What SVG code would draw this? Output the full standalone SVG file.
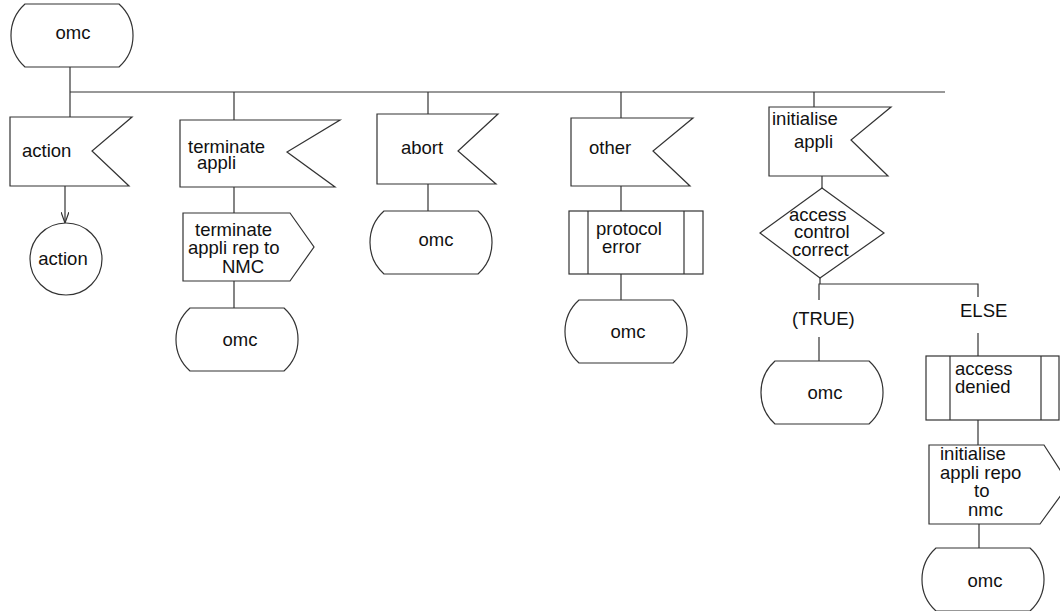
<svg xmlns="http://www.w3.org/2000/svg" xmlns:xlink="http://www.w3.org/1999/xlink" width="1060" height="611" viewBox="0 0 1060 611">
  <style>
    .shape { fill: #ffffff; stroke: #333333; stroke-width: 1.2; }
    .line { fill: none; stroke: #333333; stroke-width: 1.2; }
    text { font-family: "Liberation Sans", Arial, Helvetica, sans-serif; font-size: 18.5px; fill: #111111; }
    .c { text-anchor: middle; }
  </style>
  <defs>
    <!-- SDL state symbol: flat top and bottom, arced sides -->
    <path id="state" d="M14,0 H108 A42.4,42.4 0 0 1 108,63 H14 A42.4,42.4 0 0 1 14,0 Z"/>
    <marker id="open" viewBox="0 0 11 8" refX="11" refY="4" markerWidth="11" markerHeight="8" markerUnits="userSpaceOnUse" orient="auto">
      <path d="M0,0 L11,4 L0,8" fill="none" stroke="#333333" stroke-width="1.2"/>
    </marker>
  </defs>

  <g id="connectors">
    <line class="line" x1="70" y1="67" x2="70" y2="117"/>
    <line class="line" x1="70" y1="92" x2="945" y2="92"/>
    <line class="line" x1="234" y1="92" x2="234" y2="120"/>
    <line class="line" x1="428" y1="92" x2="428" y2="114"/>
    <line class="line" x1="621" y1="92" x2="621" y2="118"/>
    <line class="line" x1="814" y1="92" x2="814" y2="107"/>
    <line class="line" x1="65" y1="186" x2="65" y2="223" marker-end="url(#open)"/>
    <line class="line" x1="234" y1="187" x2="234" y2="213"/>
    <line class="line" x1="234" y1="281" x2="234" y2="308"/>
    <line class="line" x1="428" y1="184" x2="428" y2="211"/>
    <line class="line" x1="621" y1="186" x2="621" y2="211"/>
    <line class="line" x1="621" y1="274" x2="621" y2="300"/>
    <line class="line" x1="822" y1="176" x2="822" y2="188"/>
    <polyline class="line" points="820,278 820,284"/>
    <polyline class="line" points="819,300 819,284 978,284 978,297"/>
    <line class="line" x1="819" y1="337" x2="819" y2="361"/>
    <line class="line" x1="978" y1="333" x2="978" y2="356"/>
    <line class="line" x1="978" y1="420" x2="978" y2="445"/>
    <line class="line" x1="979" y1="524" x2="979" y2="548"/>
    <text x="792" y="325">(TRUE)</text>
    <text x="960" y="317">ELSE</text>
  </g>

  <g id="start-omc">
    <use xlink:href="#state" class="shape" x="11" y="4"/>
    <text class="c" x="73" y="39">omc</text>
  </g>

  <g id="in-action">
    <polygon class="shape" points="10,117 132,117 92,151 129,186 10,186"/>
    <text x="22" y="157">action</text>
  </g>
  <g id="conn-action">
    <circle class="shape" cx="66" cy="259" r="36"/>
    <text class="c" x="63" y="265">action</text>
  </g>

  <g id="in-terminate">
    <polygon class="shape" points="180,120 340,120 287,152 335,187 180,187"/>
    <text x="188" y="153">terminate</text>
    <text x="197" y="169">appli</text>
  </g>
  <g id="out-terminate-rep">
    <polygon class="shape" points="183,213 290,213 314,247 290,281 183,281"/>
    <text x="195" y="236">terminate</text>
    <text x="188" y="254">appli rep to</text>
    <text x="222" y="273">NMC</text>
  </g>
  <g id="state-terminate">
    <use xlink:href="#state" class="shape" x="176" y="308"/>
    <text class="c" x="240" y="346">omc</text>
  </g>

  <g id="in-abort">
    <polygon class="shape" points="377,114 498,114 458,151 496,184 377,184"/>
    <text x="401" y="154">abort</text>
  </g>
  <g id="state-abort">
    <use xlink:href="#state" class="shape" x="370" y="211"/>
    <text class="c" x="436" y="246">omc</text>
  </g>

  <g id="in-other">
    <polygon class="shape" points="571,118 693,118 653,151 690,186 571,186"/>
    <text x="589" y="154">other</text>
  </g>
  <g id="proc-protocol-error">
    <rect class="shape" x="569" y="211" width="134" height="63"/>
    <line class="line" x1="588" y1="211" x2="588" y2="274"/>
    <line class="line" x1="684" y1="211" x2="684" y2="274"/>
    <text x="596" y="235">protocol</text>
    <text x="602" y="253">error</text>
  </g>
  <g id="state-other">
    <use xlink:href="#state" class="shape" x="565" y="300"/>
    <text class="c" x="628" y="338">omc</text>
  </g>

  <g id="in-initialise">
    <polygon class="shape" points="769,107 891,107 851,140 888,176 769,176"/>
    <text x="772" y="125">initialise</text>
    <text x="794" y="148">appli</text>
  </g>
  <g id="dec-access">
    <polygon class="shape" points="822,188 884,233 820,278 760,233"/>
    <text x="789" y="221">access</text>
    <text x="794" y="238">control</text>
    <text x="792" y="256">correct</text>
  </g>
  <g id="state-true">
    <use xlink:href="#state" class="shape" x="761" y="361"/>
    <text class="c" x="825" y="399">omc</text>
  </g>
  <g id="proc-access-denied">
    <rect class="shape" x="926" y="356" width="133" height="64"/>
    <line class="line" x1="950" y1="356" x2="950" y2="420"/>
    <line class="line" x1="1041" y1="356" x2="1041" y2="420"/>
    <text x="955" y="375">access</text>
    <text x="955" y="393">denied</text>
  </g>
  <g id="out-initialise-repo">
    <polygon class="shape" points="929,445 1044,445 1069,484 1040,524 929,524"/>
    <text x="940" y="460">initialise</text>
    <text x="940" y="479">appli repo</text>
    <text x="974" y="497">to</text>
    <text x="968" y="516">nmc</text>
  </g>
  <g id="state-else">
    <use xlink:href="#state" class="shape" x="922" y="548"/>
    <text class="c" x="985" y="587">omc</text>
  </g>
</svg>
